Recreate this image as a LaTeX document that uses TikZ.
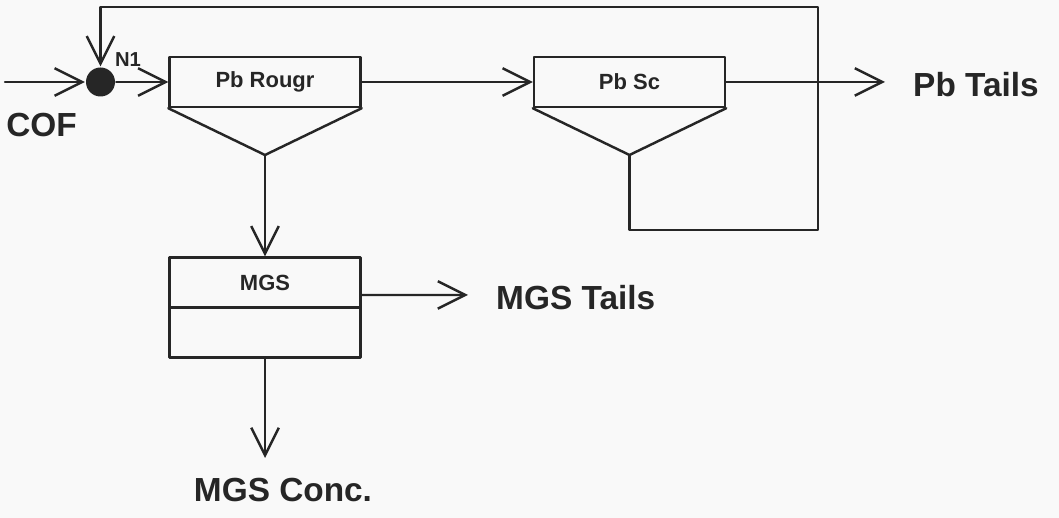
\documentclass[tikz,border=0pt]{standalone}
\usepackage{fontspec}
\setmainfont{Liberation Sans}
\usetikzlibrary{arrows.meta,positioning}
\definecolor{ink}{HTML}{262626}

\begin{document}
\begin{tikzpicture}[>={Straight Barb[length=5.5mm,width=5.5mm]}, line join=round, line cap=round,
	line width=1.4pt, color=ink,
	cell/.style={draw, minimum width=3.82cm, minimum height=1cm, inner sep=0pt, font=\fontsize{12.5}{14}\selectfont\bfseries},
	flow/.style={->},
	stream/.style={inner sep=0pt, font=\fontsize{19}{22}\selectfont\bfseries},
	joint/.style={circle, fill=ink, inner sep=0pt, minimum size=0.58cm}]
	% FRAME
	\fill[gray!5] (0,0) rectangle (21.18,10.36);
	\useasboundingbox (0,0) rectangle (21.18,10.36);
	
	% CELLS
	\node[joint] (n1) at (2.01,8.72) {};
	\node[inner sep=0pt, font=\fontsize{11.5}{13}\selectfont\bfseries] (n1lbl) at (2.56,9.16) {N1};
	\node[cell] (rougher) at (5.3,8.72) {Pb Rougr};
	\coordinate (rtip) at (5.3,7.26);
	\draw (rougher.south west) -- (rtip) -- (rougher.south east);
	\node[cell] (scav) at (12.59,8.72) {Pb Sc};
	\coordinate (stip) at (12.59,7.26);
	\draw (scav.south west) -- (stip) -- (scav.south east);
	\node[cell] (mgs) at (5.3,4.71) {MGS};
	\node[cell, below=-1.4pt of mgs] (mgsbot) {};
	
	% STREAM LABELS
	\node[stream] (cof) at (0.83,7.86) {COF};
	\node[stream, anchor=west] (pbtails) at (18.24,8.66) {Pb Tails};
	\node[stream, anchor=west] (mgstails) at (9.9,4.4) {MGS Tails};
	\node[stream] (mgsconc) at (5.66,0.56) {MGS Conc.};
	
	% FLOWS
	\coordinate (feed) at (0.1,8.72);
	\coordinate (rtop) at (16.36,10.22);
	\coordinate (rbot) at (16.36,5.76);
	\coordinate (pbend) at (17.7,8.72);
	\coordinate (mtend) at (9.36,4.46);
	\coordinate (cend) at (5.3,1.2);
	\draw[flow] (feed) -- (n1);
	\draw[flow] (n1) -- (rougher);
	\draw[flow] (rougher) -- (scav);
	\draw[flow] (scav) -- (pbend);
	\draw[flow] (stip) |- (rbot) -- (rtop) -| (n1);
	\draw[flow] (rtip) -- (mgs);
	\draw[flow] ([yshift=-0.25cm]mgs.east) -- (mtend);
	\draw[flow] (mgsbot) -- (cend);
\end{tikzpicture}
\end{document}
